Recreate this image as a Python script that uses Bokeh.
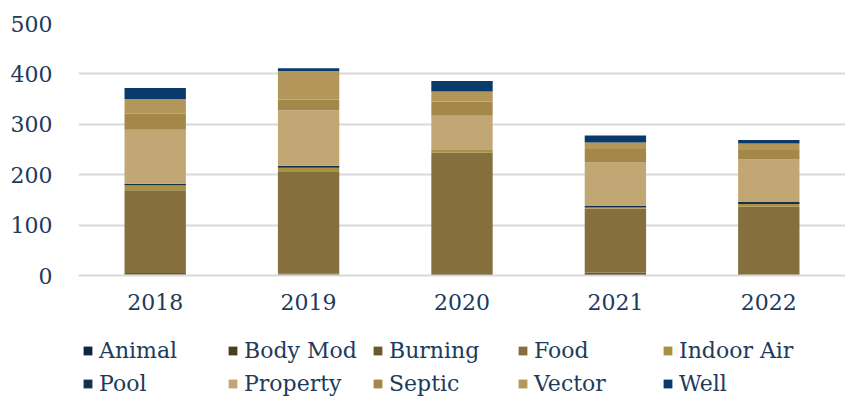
from bokeh.plotting import figure
from bokeh.models import Range1d, Legend, LegendItem
from bokeh.layouts import column
from bokeh.embed import file_html
from bokeh.resources import INLINE

years = ["2018", "2019", "2020", "2021", "2022"]
categories = ["Animal", "Body Mod", "Burning", "Food", "Indoor Air",
              "Pool", "Property", "Septic", "Vector", "Well"]
animal    = [1, 1, 1, 1, 0]
body_mod  = [1, 1, 0, 2, 0]
burning   = [3, 2, 2, 3, 1]
food      = [164, 203, 241, 127, 136]
indoor    = [10, 7, 5, 2, 5]
pool      = [3, 4, 0, 3, 4]
prop      = [107, 110, 68, 86, 84]
septic    = [32, 21, 28, 27, 19]
vector    = [29, 57, 20, 13, 13]
well      = [22, 5, 21, 14, 7]
y_ticks = [0, 100, 200, 300, 400, 500]

colors = ["#0e2544", "#4b3d1f", "#6b592c", "#85703d", "#a8913f",
          "#13304f", "#c2a775", "#a3884a", "#b39659", "#0a3a6c"]

data = {"years": years}
series = [animal, body_mod, burning, food, indoor, pool, prop, septic, vector, well]
for c, s in zip(categories, series):
    data[c] = s

FONT = "DejaVu Serif"
TXT = "#203a5c"

p = figure(x_range=years, y_range=Range1d(0, 500),
           frame_width=767, frame_height=252,
           output_backend="svg", toolbar_location=None,
           min_border_left=78, min_border_right=0, min_border_top=23,
           min_border_bottom=40)
p.outline_line_color = None
p.background_fill_color = "white"

rs = p.vbar_stack(categories, x="years", width=0.4, color=colors, source=data,
                  line_color=None)

p.x_range.range_padding = 0

p.yaxis.ticker = y_ticks
p.yaxis.axis_line_color = None
p.yaxis.major_tick_line_color = None
p.yaxis.minor_tick_line_color = None
p.yaxis.major_label_text_font = FONT
p.yaxis.major_label_text_font_size = "22px"
p.yaxis.major_label_text_color = TXT
p.yaxis.major_label_standoff = 20

p.xaxis.axis_line_color = "#d9d9d9"
p.xaxis.axis_line_width = 2
p.xaxis.major_tick_line_color = None
p.xaxis.minor_tick_line_color = None
p.xaxis.major_label_text_font = FONT
p.xaxis.major_label_text_font_size = "22px"
p.xaxis.major_label_text_color = TXT
p.xaxis.major_label_standoff = 12

p.xgrid.grid_line_color = None
p.ygrid.grid_line_color = "#d9d9d9"
p.ygrid.grid_line_width = 2

# legend panel below the chart
lf = figure(width=845, height=81, x_range=Range1d(0, 1), y_range=Range1d(0, 1),
            output_backend="svg", toolbar_location=None,
            x_axis_location=None, y_axis_location=None,
            min_border=0)
lf.outline_line_color = None
lf.xgrid.grid_line_color = None
lf.ygrid.grid_line_color = None

# legend swatches: bars placed outside the visible range
lrs = [lf.vbar(x=[-10], top=[-10], bottom=[-11], width=0.1, color=c,
               line_color=None)
       for c in colors]


def make_legend(idx, loc):
    items = [LegendItem(label=categories[i], renderers=[lrs[i]]) for i in idx]
    return Legend(items=items, orientation="horizontal",
                  location=loc, margin=0, padding=2,
                  label_text_font=FONT, label_text_font_size="22px",
                  label_text_color=TXT, glyph_width=11, glyph_height=11,
                  label_standoff=6, label_width=121, spacing=7,
                  label_height=22, border_line_color=None,
                  background_fill_alpha=0)


lf.add_layout(make_legend(range(0, 5), (4, 33)))
lf.add_layout(make_legend(range(5, 10), (4, 0)))

layout = column(p, lf, spacing=0)
open("out.html", "w").write(file_html(layout, INLINE))
